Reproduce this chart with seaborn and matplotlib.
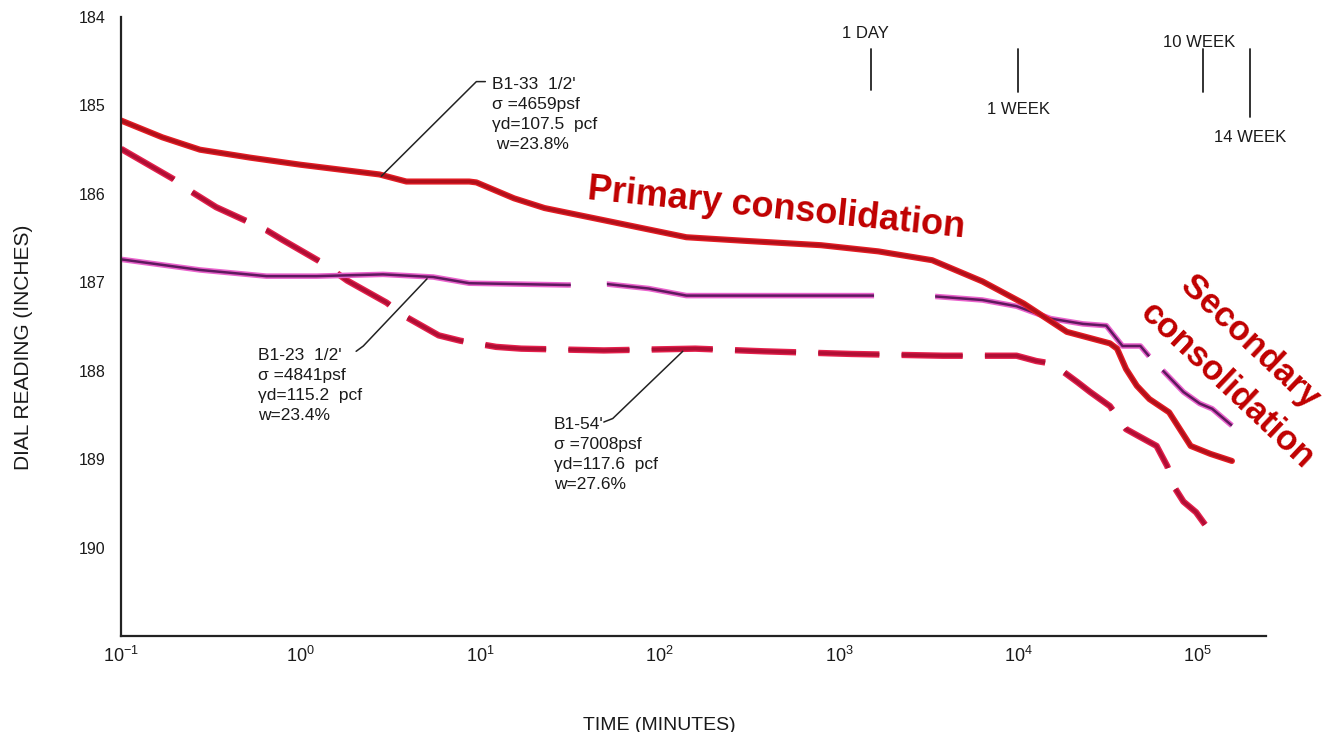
import numpy as np
import pandas as pd
import matplotlib
matplotlib.use("Agg")
import matplotlib.pyplot as plt
import matplotlib.patheffects as pe
from matplotlib.ticker import FixedLocator, NullLocator, FuncFormatter
import seaborn as sns

# ---------------- data ----------------
# exponent of time in minutes (log10) and dial reading
b133_log_t = [-1.0, -0.77, -0.56, -0.28, 0.0, 0.44, 0.59, 0.94, 0.98, 1.19, 1.36, 1.72,
              2.15, 2.47, 2.90, 3.22, 3.52, 3.80, 4.03, 4.18, 4.27, 4.51, 4.55, 4.60,
              4.66, 4.73, 4.84, 4.90, 4.96, 5.07, 5.19]
b133_dial = [185.17, 185.36, 185.50, 185.59, 185.67, 185.78, 185.86, 185.86, 185.87,
             186.05, 186.16, 186.31, 186.49, 186.53, 186.58, 186.65, 186.75, 186.99,
             187.24, 187.44, 187.56, 187.69, 187.75, 187.98, 188.17, 188.32, 188.47,
             188.66, 188.85, 188.94, 189.02]

b123_log_t = [-1.0, -0.56, -0.19, 0.09, 0.46, 0.74, 0.94, 1.49, 1.71, 1.94, 2.15, 2.69,
              3.20, 3.54, 3.80, 3.99, 4.18, 4.36, 4.49, 4.58, 4.68, 4.73, 4.83, 4.92,
              5.01, 5.08, 5.19]
b123_dial = [186.74, 186.86, 186.93, 186.93, 186.91, 186.94, 187.01, 187.03, 187.02,
             187.07, 187.15, 187.15, 187.15, 187.16, 187.20, 187.27, 187.41, 187.47,
             187.49, 187.72, 187.72, 187.84, 188.05, 188.24, 188.37, 188.43, 188.62]

b154_log_t = [-1.0, -0.71, -0.62, -0.47, -0.19, -0.10, 0.13, 0.26, 0.48, 0.57, 0.77,
              0.89, 1.09, 1.23, 1.69, 2.20, 2.58, 3.07, 3.58, 3.99, 4.10, 4.19, 4.33,
              4.40, 4.51, 4.60, 4.68, 4.77, 4.83, 4.87, 4.92, 4.99, 5.04]
b154_dial = [185.49, 185.83, 185.96, 186.15, 186.41, 186.52, 186.79, 186.98, 187.23,
             187.37, 187.60, 187.66, 187.73, 187.75, 187.77, 187.75, 187.78, 187.81,
             187.83, 187.83, 187.89, 187.92, 188.13, 188.24, 188.40, 188.66, 188.75,
             188.85, 189.08, 189.32, 189.48, 189.60, 189.74]

y_ticks = [184, 185, 186, 187, 188, 189, 190]
x_tick_exps = [-1, 0, 1, 2, 3, 4, 5]

# time markers (label, log10 minutes as drawn, label position)
marker_labels = ["1 DAY", "1 WEEK", "10 WEEK", "14 WEEK"]
marker_log_t = [3.18, 4.0, 5.03, 5.29]
marker_bottom = [184.83, 184.85, 184.85, 185.13]
marker_label_log_t = [3.15, 4.0, 5.01, 5.29]
marker_label_y = [184.19, 185.04, 184.29, 185.36]

sample_texts = [
    "B1-33  1/2'\nσ =4659psf\nγd=107.5  pcf\n w=23.8%",
    "B1-23  1/2'\nσ =4841psf\nγd=115.2  pcf\nw=23.4%",
    "B1-54'\nσ =7008psf\nγd=117.6  pcf\nw=27.6%",
]

# ---------------- style ----------------
sns.set_theme(style="white")
plt.rcParams["font.family"] = ["Liberation Sans", "DejaVu Sans"]
plt.rcParams["mathtext.fontset"] = "custom"
plt.rcParams["mathtext.rm"] = "Liberation Sans"
plt.rcParams["lines.scale_dashes"] = False

fig = plt.figure(figsize=(13.3, 7.32), dpi=100)
ax = fig.add_axes([0.091, 0.1311, 0.8609, 0.8456])

df1 = pd.DataFrame({"t": np.power(10.0, b133_log_t), "d": b133_dial})
df2 = pd.DataFrame({"t": np.power(10.0, b123_log_t), "d": b123_dial})
df3 = pd.DataFrame({"t": np.power(10.0, b154_log_t), "d": b154_dial})

sns.lineplot(data=df3, x="t", y="d", ax=ax, estimator=None, sort=False,
             color="#b00e34", lw=2.6)
l3 = ax.get_lines()[-1]
l3.set_dashes([44, 16])
l3.set_path_effects([pe.Stroke(linewidth=4.6, foreground="#e4204c"), pe.Normal()])

sns.lineplot(data=df2, x="t", y="d", ax=ax, estimator=None, sort=False,
             color="#5e1a5e", lw=1.8)
l2 = ax.get_lines()[-1]
l2.set_dashes([325, 26, 193, 44, 167, 14, 400, 10])
l2.set_path_effects([pe.Stroke(linewidth=4.0, foreground="#ea62cc"), pe.Normal()])

sns.lineplot(data=df1, x="t", y="d", ax=ax, estimator=None, sort=False,
             color="#b0101a", lw=2.4)
l1 = ax.get_lines()[-1]
l1.set_path_effects([pe.Stroke(linewidth=4.4, foreground="#e41c24"), pe.Normal()])

ax.set_xscale("log")
ax.set_xlim(10 ** -1, 10 ** 5.38)
ax.set_ylim(191, 184)

ax.xaxis.set_major_locator(FixedLocator([10.0 ** e for e in x_tick_exps]))
ax.xaxis.set_minor_locator(NullLocator())
ax.xaxis.set_major_formatter(FuncFormatter(
    lambda v, p: r"$\mathregular{10^{%d}}$" % int(round(np.log10(v)))))
ax.yaxis.set_major_locator(FixedLocator(y_ticks))
ax.set_yticklabels([str(v) for v in y_ticks])

ax.tick_params(axis="x", which="major", direction="in", length=12, width=1.3,
               pad=7, labelsize=13, colors="#1a1a1a")
ax.tick_params(axis="y", which="major", direction="in", length=13, width=1.3,
               pad=11, labelsize=11.5, colors="#1a1a1a")

for s in ["top", "right"]:
    ax.spines[s].set_visible(False)
for s in ["left", "bottom"]:
    ax.spines[s].set_linewidth(1.6)
    ax.spines[s].set_color("#222222")

ax.set_xlabel("TIME (MINUTES)", fontsize=14, color="#1a1a1a")
ax.set_ylabel("DIAL READING (INCHES)", fontsize=15, color="#1a1a1a")
ax.xaxis.set_label_coords(0.47, -0.13)
ax.yaxis.set_label_coords(-0.077, 0.467)

# time markers
for lab, xt, yb, lx, ly in zip(marker_labels, marker_log_t, marker_bottom,
                                marker_label_log_t, marker_label_y):
    ax.plot([10 ** xt, 10 ** xt], [184.36, yb], color="#222222", lw=1.3)
    ax.text(10 ** lx, ly, lab, ha="center", va="center", fontsize=12,
            color="#1a1a1a", clip_on=False)

# sample annotations
txt_kw = dict(fontsize=12.5, color="#1a1a1a", ha="left", va="top", linespacing=1.42)
ax.text(10 ** 1.067, 184.68, sample_texts[0], **txt_kw)
ax.plot([10 ** 0.45, 10 ** 0.98, 10 ** 1.03], [185.80, 184.73, 184.73],
        color="#222222", lw=1.1)
ax.text(10 ** -0.237, 187.74, sample_texts[1], **txt_kw)
ax.plot([10 ** 0.31, 10 ** 0.35, 10 ** 0.705], [187.78, 187.72, 186.96],
        color="#222222", lw=1.1)
ax.text(10 ** 1.412, 188.52, sample_texts[2], **txt_kw)
ax.plot([10 ** 1.69, 10 ** 1.74, 10 ** 2.13], [188.58, 188.54, 187.78],
        color="#222222", lw=1.1)

# red commentary
red_kw = dict(fontweight="bold", color="#c00000", rotation_mode="anchor",
              ha="center", va="center", clip_on=False)
ax.text(10 ** 2.649, 186.17, "Primary consolidation", fontsize=26,
        rotation=-5.8, **red_kw)
ax.text(10 ** 5.29, 187.68, "Secondary", fontsize=25, rotation=-43.4, **red_kw)
ax.text(10 ** 5.165, 188.17, "consolidation", fontsize=25, rotation=-43.4, **red_kw)

fig.savefig("out.png", dpi=100)
